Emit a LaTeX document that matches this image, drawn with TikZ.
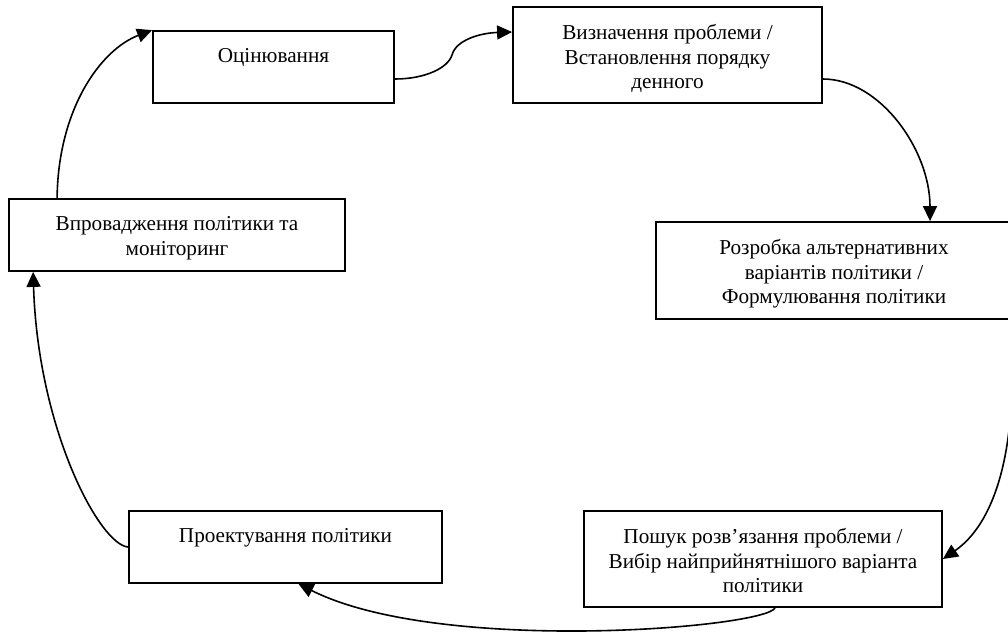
\documentclass[tikz,border=0pt]{standalone}
\usepackage{fontspec}
\setmainfont{Liberation Serif}
\usetikzlibrary{arrows.meta,calc}
\begin{document}
\begin{tikzpicture}[x=1pt,y=-1pt,
  box/.style={draw=black,line width=1.8pt,rectangle,inner sep=0pt},
  txt/.style={anchor=north,inner sep=0pt,align=center,font=\fontsize{21.2}{24.5}\selectfont},
  conn/.style={line width=1.6pt,-{Triangle[length=15pt,width=14pt]}}]
\useasboundingbox (0,0) rectangle (1008,633);
\clip (0,0) rectangle (1008,633);
\fill[white] (0,0) rectangle (1008,633);

\node[box,minimum width=241pt,minimum height=72pt] (ocin) at (273.5,67) {};
\node[box,minimum width=309pt,minimum height=96pt] (vyzn) at (667.5,55) {};
\node[box,minimum width=356pt,minimum height=97pt] (rozr) at (834,270.5) {};
\node[box,minimum width=336pt,minimum height=72pt] (vprov) at (177,235) {};
\node[box,minimum width=313pt,minimum height=72pt] (proekt) at (285.5,547) {};
\node[box,minimum width=358pt,minimum height=96pt] (poshuk) at (763,559) {};

\node[txt] (tocin) at ([yshift=-18.5pt]ocin.north) {Оцінювання};
\node[txt] (tvyzn) at ([yshift=-18.5pt]vyzn.north) {Визначення проблеми /\\Встановлення порядку\\денного};
\node[txt] (trozr) at ([yshift=-18.5pt]rozr.north) {Розробка альтернативних\\варіантів політики /\\Формулювання політики};
\node[txt] (tvprov) at ([yshift=-18.5pt]vprov.north) {Впровадження політики та\\моніторинг};
\node[txt] (tproekt) at ([yshift=-18.5pt]proekt.north) {Проектування політики};
\node[txt] (tposhuk) at ([yshift=-18.5pt]poshuk.north) {Пошук розв’язання проблеми /\\Вибір найприйнятнішого варіанта\\політики};

\coordinate (c4) at (1012,385);
\coordinate (kink) at (452,55);

\draw[conn] ([xshift=49pt]vprov.north west) .. controls (58,110) and (100,50) .. (ocin.north west);
\draw[line width=1.6pt] ([yshift=-12pt]ocin.east) .. controls (425,79) and (448,68) .. (kink);
\draw[conn] (kink) .. controls (456,40) and (480,33) .. ([yshift=23pt]vyzn.west);
\draw[conn] ([yshift=-24pt]vyzn.east) .. controls (880,79) and (930,150) .. ([xshift=96pt]rozr.north);
\draw[conn] (c4) .. controls (1010,480) and (985,530) .. (poshuk.east);
\draw[conn] ([xshift=12pt]poshuk.south) .. controls (765,628) and (440,655) .. ([xshift=13pt]proekt.south);
\draw[conn] (proekt.west) .. controls (100,545) and (38,430) .. ([xshift=25pt]vprov.south west);
\end{tikzpicture}
\end{document}
